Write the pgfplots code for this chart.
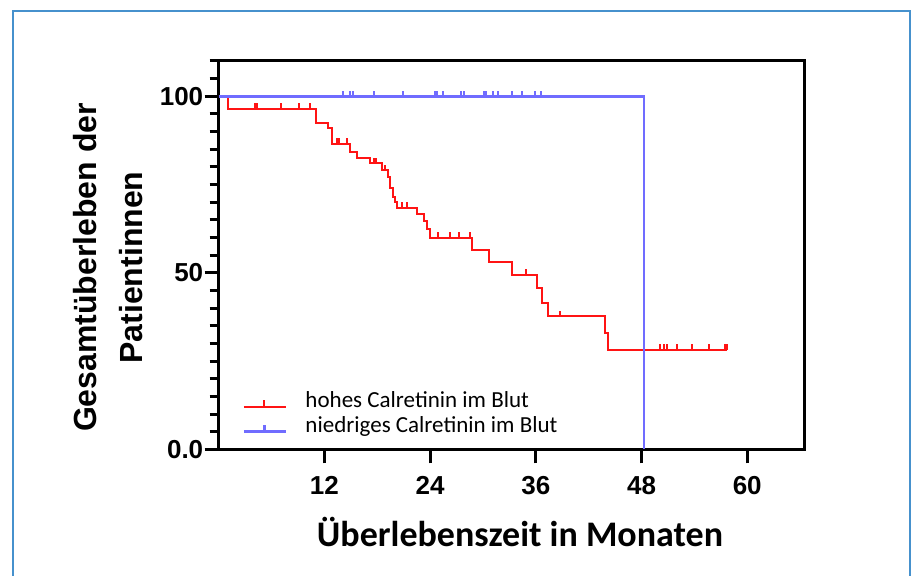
\documentclass[border=0pt]{standalone}
\usepackage{fontspec}
\setmainfont{Liberation Sans}
\newfontfamily\carlito{Carlito}
\usepackage{pgfplots}
\pgfplotsset{compat=1.18}
\definecolor{kmred}{RGB}{255,20,20}
\definecolor{kmblue}{RGB}{112,108,255}
\definecolor{frameblue}{RGB}{70,145,205}
\pgfdeclareplotmark{censor}{%
  \pgfpathmoveto{\pgfpointorigin}%
  \pgfpathlineto{\pgfpoint{0pt}{\pgfplotmarksize}}%
  \pgfusepathqstroke}
\begin{document}
\begin{tikzpicture}
\useasboundingbox (0,0) rectangle (455.5pt,288pt);
\draw[frameblue, line width=1pt] (6.4pt,-5pt) -- (6.4pt,282.5pt) -- (454.8pt,282.5pt) -- (454.8pt,-5pt);
\begin{axis}[
  scale only axis,
  width=292.95pt, height=194.25pt,
  at={(109.3pt,63.25pt)}, anchor=south west,
  xmin=0, xmax=66.5, ymin=0, ymax=110,
  axis line style={line width=1.5pt},
  tick pos=left, tick align=outside,
  major tick length=7pt, minor tick length=4.5pt,
  tick style={black, line width=1.5pt},
  xtick={12,24,36,48,60},
  xticklabels={12,24,36,48,60},
  ytick={0,50,100},
  yticklabels={0.0,50,100},
  minor ytick={5,10,...,110},
  ticklabel style={font=\bfseries\fontsize{13}{15}\selectfont},
  yticklabel style={inner sep=0.5pt},
  xticklabel style={inner sep=6pt},
  /pgf/number format/assume math mode=true,
  legend style={at={(axis cs:2.735,16.65)}, anchor=north west, draw=none, fill=none,
    inner sep=0pt, outer sep=0pt, row sep=1pt,
    font=\carlito\fontsize{11.5}{13}\selectfont,
    nodes={inner sep=0pt, text height=8.5pt, text depth=3pt},
    cells={anchor=base west},
    /tikz/every odd column/.append style={column sep=9pt}},
  legend image code/.code={%
    \draw[#1] (0pt,0.5pt) -- (21.2pt,0.5pt);
    \draw[#1] (10.3pt,0.5pt) -- (10.3pt,3.8pt);
  },
]
\addplot[kmred, line width=1pt, const plot, mark=none] coordinates {
(0,100) (1.07,96.4) (11.0,92.5) (12.4,90.9) (12.83,86.6) (14.91,84.3)
(15.67,82.4) (17.18,81.0) (18.5,79.1) (19.26,77.2) (19.45,73.9) (19.83,71.6)
(20.02,70.2) (20.2,68.5) (22.5,66.6) (23.3,64.8) (23.7,62.4) (24.0,60.0)
(28.72,56.5) (30.7,53.0) (33.35,49.4) (36.1,45.7) (36.67,41.6) (37.41,37.7)
(43.85,33.0) (44.22,28.2) (57.66,28.2)
};
\addlegendentry{hohes Calretinin im Blut}
\addplot[kmred, line width=1pt, only marks, mark=censor, mark size=2.8pt, forget plot] coordinates {
(4.1,96.4) (4.35,96.4) (7.08,96.4) (9.09,96.4) (10.37,96.4)
(13.4,86.6) (13.7,86.6) (14.54,86.6)
(17.64,81.0) (17.86,81.0) (18.9,79.1)
(20.78,68.5) (21.35,68.5)
(24.93,60) (26.26,60) (27.32,60) (28.53,60)
(34.88,49.4) (38.74,37.7)
(50.1,28.2) (50.5,28.2) (50.85,28.2) (52.0,28.2) (53.7,28.2) (55.7,28.2) (57.5,28.2) (57.66,28.2)
};
\addplot[kmblue, line width=1.2pt, const plot, mark=none] coordinates {
(0,100) (48.3,0)
};
\addlegendentry{niedriges Calretinin im Blut}
\addplot[kmblue, line width=1pt, only marks, mark=censor, mark size=2.8pt, forget plot] coordinates {
(14.08,100) (14.91,100) (15.29,100) (17.63,100) (20.96,100) (24.56,100) (24.75,100)
(25.5,100) (27.51,100) (27.88,100) (30.15,100) (30.34,100) (31.17,100) (31.67,100)
(33.26,100) (34.4,100) (35.9,100) (36.55,100)
};
\end{axis}
\node[rotate=90, anchor=base, font=\bfseries\fontsize{16}{19}\selectfont] at (48pt,154.25pt) {Gesamtüberleben der};
\node[rotate=90, anchor=base, font=\bfseries\fontsize{16}{19}\selectfont] at (71pt,154.25pt) {Patientinnen};
\node[anchor=base, font=\carlito\bfseries\fontsize{18}{22}\selectfont] at (260pt,14.5pt) {Überlebenszeit in Monaten};
\end{tikzpicture}
\end{document}
